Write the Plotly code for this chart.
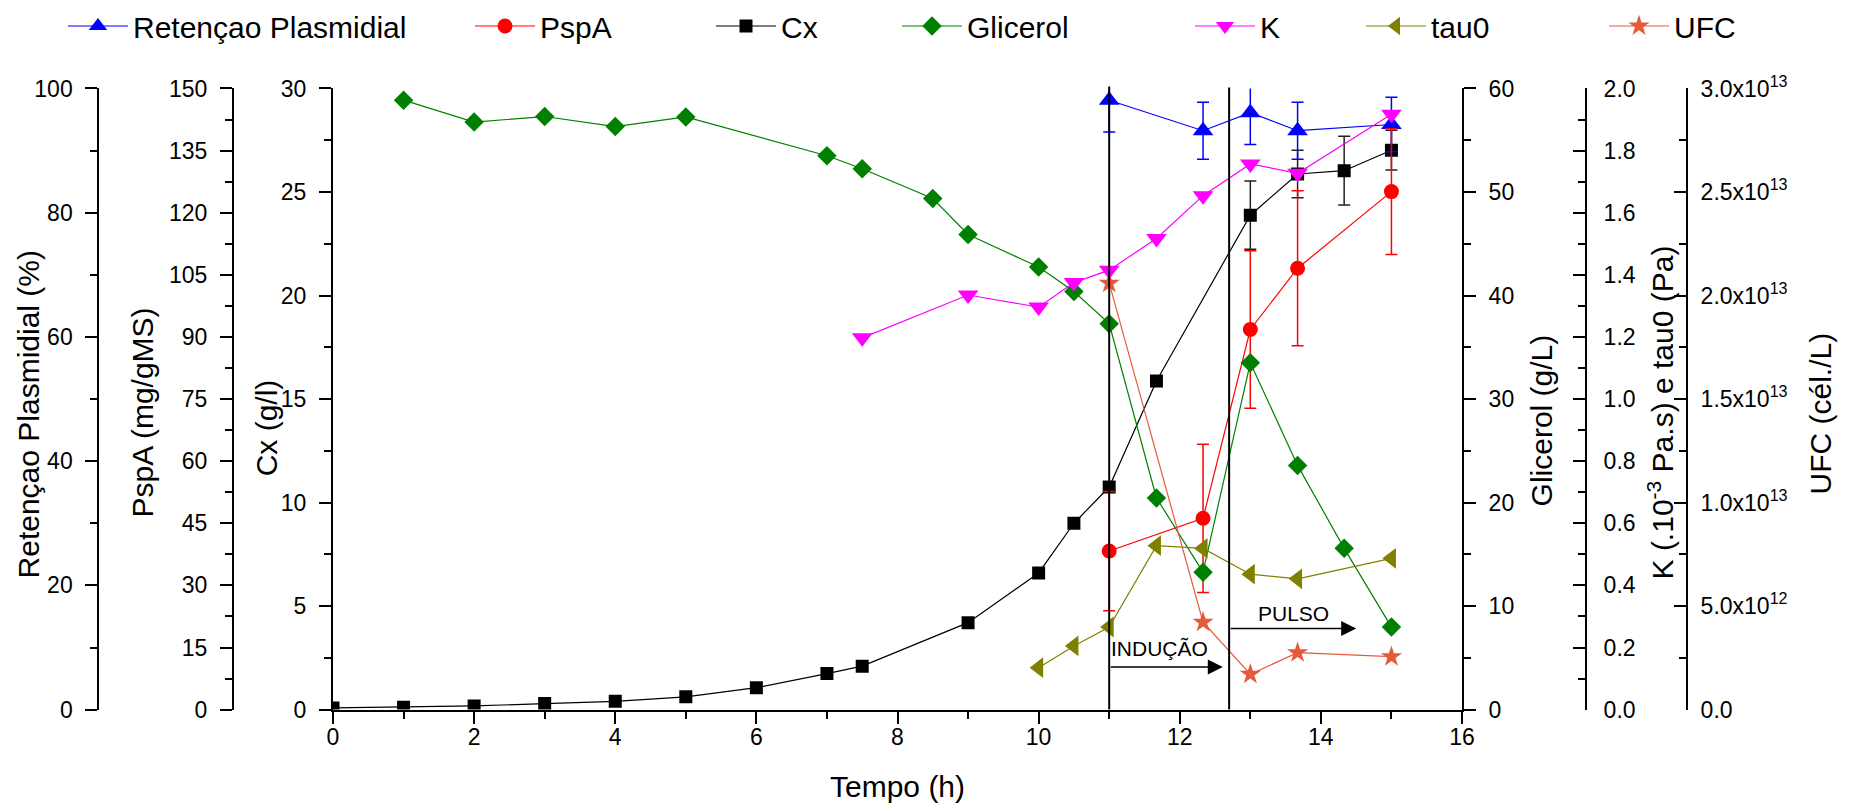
import plotly.graph_objects as go

W, H = 1854, 808

# ---------------- data ----------------
t_ret = [11, 12.33, 13, 13.67, 15]
ret = [98.1, 93.2, 96.1, 93.2, 94.2]
ret_err = [5.1, 4.6, 5.1, 4.6, 4.4]

t_pspa = [11, 12.33, 13, 13.67, 15]
pspa = [38.3, 46.2, 91.8, 106.6, 125.1]
pspa_err = [14.4, 17.9, 19.0, 18.7, 15.2]

t_cx = [0, 1, 2, 3, 4, 5, 6, 7, 7.5, 9, 10, 10.5, 11, 11.67, 13, 13.67, 14.33, 15]
cx = [0.08, 0.12, 0.18, 0.29, 0.40, 0.62, 1.06, 1.74, 2.1, 4.2, 6.6, 9.0, 10.75, 15.87, 23.88, 25.87, 26.03, 27.02]
cx_err = [0, 0, 0, 0, 0, 0, 0, 0, 0, 0, 0, 0, 0, 0, 1.65, 1.15, 1.66, 0.96]

t_gli = [1, 2, 3, 4, 5, 7, 7.5, 8.5, 9, 10, 10.5, 11, 11.67, 12.33, 13, 13.67, 14.33, 15]
gli = [58.87, 56.76, 57.29, 56.32, 57.25, 53.5, 52.24, 49.37, 45.9, 42.75, 40.38, 37.28, 20.45, 13.28, 33.5, 23.59, 15.58, 7.97]

t_k = [7.5, 9, 10, 10.5, 11, 11.67, 12.33, 13, 13.67, 15]
k_vals = [1.197, 1.335, 1.296, 1.375, 1.415, 1.517, 1.655, 1.757, 1.727, 1.917]

t_tau = [10, 10.5, 11, 11.67, 12.33, 13, 13.67, 15]
tau0 = [0.135, 0.205, 0.266, 0.528, 0.519, 0.436, 0.421, 0.487]

t_ufc = [11, 12.33, 13, 13.67, 15]
ufc = [2.06e13, 4.22e12, 1.71e12, 2.75e12, 2.56e12]

# event lines (h)
t_inducao = 11.0
t_pulso = 12.7

ufc_tickvals = [0, 5e12, 1e13, 1.5e13, 2e13, 2.5e13, 3e13]
ufc_ticktext = ["0.0", "5.0x10<sup>12</sup>", "1.0x10<sup>13</sup>", "1.5x10<sup>13</sup>",
                "2.0x10<sup>13</sup>", "2.5x10<sup>13</sup>", "3.0x10<sup>13</sup>"]

# ---------------- layout geometry ----------------
FONT = "Arial, 'Liberation Sans', sans-serif"
x_dom = [333 / W, 1462 / W]
y_dom = [(H - 709) / H, (H - 84) / H]

fig = go.Figure()

C_RET = "#0000FF"
C_PSPA = "#FF0000"
C_CX = "#000000"
C_GLI = "#008000"
C_K = "#FF00FF"
C_TAU = "#808000"
C_UFC = "#E65A3C"

# Cx error bars only where present (drawn beneath markers)
cx_e_t = [t for t, e in zip(t_cx, cx_err) if e > 0]
cx_e_v = [v for v, e in zip(cx, cx_err) if e > 0]
cx_e_e = [e for e in cx_err if e > 0]

fig.add_trace(go.Scatter(x=t_ret, y=ret, yaxis="y2", name="Retençao Plasmidial",
                         mode="lines+markers", line=dict(color=C_RET, width=1.2),
                         marker=dict(symbol="triangle-up", size=18, color=C_RET),
                         error_y=dict(type="data", array=ret_err, color=C_RET, thickness=1.5, width=6),
                         legend="legend"))
fig.add_trace(go.Scatter(x=t_pspa, y=pspa, yaxis="y3", name="PspA",
                         mode="lines+markers", line=dict(color=C_PSPA, width=1.2),
                         marker=dict(symbol="circle", size=15, color=C_PSPA),
                         error_y=dict(type="data", array=pspa_err, color=C_PSPA, thickness=1.5, width=6),
                         legend="legend2"))
fig.add_trace(go.Scatter(x=cx_e_t, y=cx_e_v, yaxis="y", mode="markers", showlegend=False,
                         marker=dict(size=2, opacity=0),
                         error_y=dict(type="data", array=cx_e_e, color="#222222", thickness=1.5, width=6),
                         hoverinfo="skip"))
fig.add_trace(go.Scatter(x=t_cx, y=cx, yaxis="y", name="Cx",
                         mode="lines+markers", line=dict(color=C_CX, width=1.2),
                         marker=dict(symbol="square", size=13, color=C_CX),
                         legend="legend3"))
fig.add_trace(go.Scatter(x=t_gli, y=gli, yaxis="y4", name="Glicerol",
                         mode="lines+markers", line=dict(color=C_GLI, width=1.2),
                         marker=dict(symbol="diamond", size=15, color=C_GLI),
                         legend="legend4"))
fig.add_trace(go.Scatter(x=t_k, y=k_vals, yaxis="y5", name="K",
                         mode="lines+markers", line=dict(color=C_K, width=1.2),
                         marker=dict(symbol="triangle-down", size=18, color=C_K),
                         legend="legend5"))
fig.add_trace(go.Scatter(x=t_tau, y=tau0, yaxis="y5", name="tau0",
                         mode="lines+markers", line=dict(color=C_TAU, width=1.2),
                         marker=dict(symbol="triangle-left", size=18, color=C_TAU),
                         legend="legend6"))
fig.add_trace(go.Scatter(x=t_ufc, y=ufc, yaxis="y6", name="UFC",
                         mode="lines+markers", line=dict(color=C_UFC, width=1.2),
                         marker=dict(symbol="star", size=16, color=C_UFC),
                         legend="legend7"))

tickfont = dict(family=FONT, size=23, color="black")


def axis_base(ticks="outside"):
    return dict(showgrid=False, zeroline=False, showline=True, linewidth=2, linecolor="black",
                ticks=ticks, ticklen=12, tickwidth=2, tickcolor="black", tickfont=tickfont,
                automargin=False)


def minor(dt, ticks="outside"):
    return dict(ticks=ticks, ticklen=7, tickwidth=2, tickcolor="black", dtick=dt, tick0=0, showgrid=False)


xa = axis_base()
xa.update(domain=x_dom, range=[0, 16], dtick=2, tick0=0, minor=minor(1), anchor="y",
          ticklabelstandoff=-6)

ya = axis_base()
ya.update(domain=y_dom, range=[0, 30], dtick=5, tick0=0, minor=minor(2.5), anchor="x", side="left",
          ticklabelstandoff=8)

ya2 = axis_base()
ya2.update(range=[0, 100], dtick=20, tick0=0, minor=minor(10), overlaying="y", side="left",
           anchor="free", position=98.3 / W, ticklabelstandoff=8)

ya3 = axis_base()
ya3.update(range=[0, 150], dtick=15, tick0=0, minor=minor(7.5), overlaying="y", side="left",
           anchor="free", position=233 / W, ticklabelstandoff=8)

ya4 = axis_base()
ya4.update(range=[0, 60], dtick=10, tick0=0, minor=minor(5), overlaying="y", side="right",
           anchor="x", ticklabelstandoff=8)

ya5 = axis_base("inside")
ya5.update(range=[0, 2], dtick=0.2, tick0=0, tickformat=".1f", minor=minor(0.1, "inside"),
           overlaying="y", side="right", anchor="free", position=1586 / W, ticklabelstandoff=12)

ya6 = axis_base("inside")
ya6.update(range=[0, 3e13], tickmode="array", tickvals=ufc_tickvals, ticktext=ufc_ticktext,
           minor=dict(ticks="inside", ticklen=7, tickwidth=2, tickcolor="black",
                      tickmode="linear", tick0=0, dtick=2.5e12),
           overlaying="y", side="right", anchor="free", position=1687 / W, ticklabelstandoff=8)

legend_px = [85, 492, 733, 919, 1212, 1383, 1626]
legend_keys = ["legend", "legend2", "legend3", "legend4", "legend5", "legend6", "legend7"]
legends = {}
for key, px in zip(legend_keys, legend_px):
    legends[key] = dict(x=(px - 22) / W, y=1 - 21 / H, xanchor="left", yanchor="middle",
                        orientation="h", bgcolor="rgba(0,0,0,0)", borderwidth=0,
                        font=dict(family=FONT, size=30, color="black"), itemwidth=60)

title_font = dict(family=FONT, size=30, color="black")
annotations = [
    dict(text="Retençao Plasmidial (%)", x=28 / W, y=1 - 412 / H, textangle=-90),
    dict(text="PspA (mg/gMS)", x=142 / W, y=1 - 410 / H, textangle=-90),
    dict(text="Cx (g/l)", x=266 / W, y=1 - 426 / H, textangle=-90),
    dict(text="Glicerol (g/L)", x=1541 / W, y=1 - 418 / H, textangle=-90),
    dict(text="K (.10<sup>-3</sup> Pa.s) e tau0 (Pa)", x=1661 / W, y=1 - 410 / H, textangle=-90),
    dict(text="UFC (cél./L)", x=1820 / W, y=1 - 411 / H, textangle=-90),
    dict(text="Tempo (h)", x=897.5 / W, y=1 - 786 / H, textangle=0),
]
for a in annotations:
    a.update(xref="paper", yref="paper", showarrow=False, font=title_font,
             xanchor="center", yanchor="middle")

# arrows and labels for phases
lab_font = dict(family=FONT, size=21, color="black")
annotations += [
    dict(x=12.61, y=2.06, ax=t_inducao, ay=2.06, xref="x", yref="y", axref="x", ayref="y",
         showarrow=True, arrowhead=2, arrowsize=2, arrowwidth=1.5, arrowcolor="black", text=""),
    dict(x=14.5, y=3.92, ax=t_pulso, ay=3.92, xref="x", yref="y", axref="x", ayref="y",
         showarrow=True, arrowhead=2, arrowsize=2, arrowwidth=1.5, arrowcolor="black", text=""),
    dict(x=11.72, y=2.93, xref="x", yref="y", text="INDUÇÃO", showarrow=False, font=lab_font),
    dict(x=13.61, y=4.66, xref="x", yref="y", text="PULSO", showarrow=False, font=lab_font),
]

shapes = [
    dict(type="line", xref="x", yref="paper", x0=t_inducao, x1=t_inducao, y0=y_dom[0], y1=1 - 82 / H,
         line=dict(color="black", width=2), layer="above"),
    dict(type="line", xref="x", yref="paper", x0=t_pulso, x1=t_pulso, y0=y_dom[0], y1=1 - 83 / H,
         line=dict(color="black", width=2), layer="above"),
]

fig.update_layout(
    width=W, height=H, margin=dict(l=0, r=0, t=0, b=0),
    paper_bgcolor="white", plot_bgcolor="white",
    font=dict(family=FONT, color="black"),
    xaxis=xa, yaxis=ya, yaxis2=ya2, yaxis3=ya3, yaxis4=ya4, yaxis5=ya5, yaxis6=ya6,
    annotations=annotations, shapes=shapes, showlegend=True,
    **legends,
)

fig.write_html("out.html")
